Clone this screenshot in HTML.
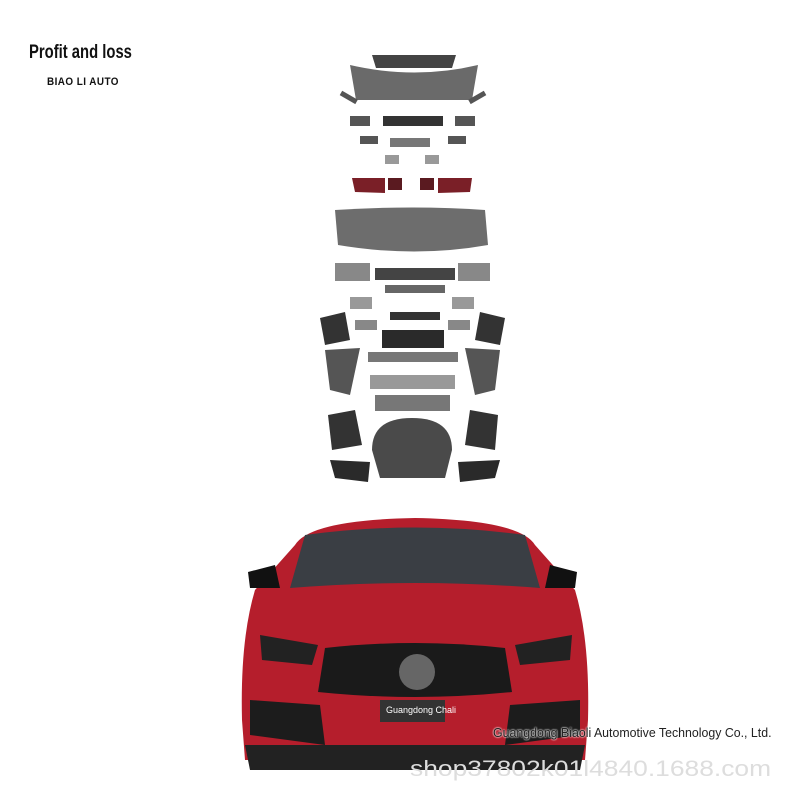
<!DOCTYPE html>
<html><head><meta charset="utf-8"><style>
body{margin:0;width:800px;height:800px;background:#fff;position:relative;overflow:hidden;font-family:"Liberation Sans",sans-serif}
.t{position:absolute;white-space:nowrap}
</style></head><body>
<div class="t" style="left:29px;top:42px;font-size:19px;color:#111;font-weight:bold;transform:scaleX(0.78);transform-origin:left">Profit and loss</div>
<div class="t" style="left:47px;top:76px;font-size:11px;font-weight:bold;color:#111;letter-spacing:0.5px;transform:scaleX(0.9);transform-origin:left">BIAO LI AUTO</div>
<svg width="800" height="800" style="position:absolute;left:0;top:0">
<g fill="#555">
<path d="M372 55 L456 55 L452 68 L376 68Z" fill="#444"/>
<path d="M350 65 Q415 80 478 65 L472 100 L356 100Z" fill="#6a6a6a"/>
<rect x="340" y="95" width="18" height="5" transform="rotate(30 349 97)"/>
<rect x="468" y="95" width="18" height="5" transform="rotate(-30 477 97)"/>
<rect x="350" y="116" width="20" height="10"/><rect x="383" y="116" width="60" height="10" fill="#333"/><rect x="455" y="116" width="20" height="10"/>
<rect x="360" y="136" width="18" height="8"/><rect x="390" y="138" width="40" height="9" fill="#777"/><rect x="448" y="136" width="18" height="8"/>
<rect x="385" y="155" width="14" height="9" fill="#999"/><rect x="425" y="155" width="14" height="9" fill="#999"/>
<path d="M352 178 L385 178 L385 193 L355 192Z" fill="#7a1f27"/><rect x="388" y="178" width="14" height="12" fill="#5a1a20"/>
<rect x="420" y="178" width="14" height="12" fill="#5a1a20"/><path d="M438 178 L472 178 L470 192 L438 193Z" fill="#7a1f27"/>
<path d="M335 210 Q415 205 485 210 L488 245 Q415 258 338 245Z" fill="#6d6d6d"/>
<rect x="335" y="263" width="35" height="18" fill="#888"/><rect x="375" y="268" width="80" height="12" fill="#444"/><rect x="458" y="263" width="32" height="18" fill="#888"/>
<rect x="385" y="285" width="60" height="8" fill="#666"/>
<rect x="350" y="297" width="22" height="12" fill="#999"/><rect x="452" y="297" width="22" height="12" fill="#999"/>
<rect x="390" y="312" width="50" height="8" fill="#333"/>
<path d="M320 318 L345 312 L350 340 L325 345Z" fill="#333"/><path d="M480 312 L505 318 L500 345 L475 340Z" fill="#333"/>
<rect x="355" y="320" width="22" height="10" fill="#888"/><rect x="448" y="320" width="22" height="10" fill="#888"/>
<rect x="382" y="330" width="62" height="18" fill="#2a2a2a"/>
<path d="M325 350 L360 348 L350 395 L330 390Z" fill="#555"/><path d="M465 348 L500 350 L495 390 L475 395Z" fill="#555"/>
<rect x="368" y="352" width="90" height="10" fill="#777"/>
<rect x="370" y="375" width="85" height="14" fill="#999"/>
<rect x="375" y="395" width="75" height="16" fill="#777"/>
<path d="M328 415 L355 410 L362 445 L332 450Z" fill="#333"/><path d="M470 410 L498 415 L495 450 L465 445Z" fill="#333"/>
<path d="M372 450 Q372 418 412 418 Q452 418 452 450 L445 478 L380 478Z" fill="#4a4a4a"/>
<path d="M330 460 L370 462 L368 482 L335 478Z" fill="#2a2a2a"/><path d="M458 462 L500 460 L495 478 L460 482Z" fill="#2a2a2a"/>
</g>
<path d="M295 545 Q310 520 415 518 Q520 520 535 545 L575 590 Q590 640 588 720 L585 760 L245 760 L242 720 Q240 640 255 590Z" fill="#b51e2c"/>
<path d="M305 535 Q415 520 525 535 L540 588 Q415 578 290 588Z" fill="#3a3e44"/>
<path d="M248 572 L275 565 L280 588 L250 588Z" fill="#111"/><path d="M550 565 L577 572 L575 588 L545 588Z" fill="#111"/>
<path d="M260 635 L318 645 L312 665 L262 660Z" fill="#222"/><path d="M515 645 L572 635 L570 660 L520 665Z" fill="#222"/>
<path d="M325 648 Q415 638 505 648 L512 692 Q415 702 318 692Z" fill="#1a1a1a"/>
<circle cx="417" cy="672" r="18" fill="#666"/>
<path d="M250 700 L320 705 L325 745 L250 735Z" fill="#1c1c1c"/><path d="M510 705 L580 700 L580 735 L505 745Z" fill="#1c1c1c"/>
<path d="M245 745 L585 745 L580 770 L250 770Z" fill="#222"/>
<rect x="380" y="700" width="65" height="22" fill="#333"/>
</svg>
<div class="t" style="left:386px;top:705px;font-size:9px;color:#fff">Guangdong Chali</div>
<div class="t" style="left:493px;top:725px;font-size:13px;color:#222;transform:scaleX(0.95);transform-origin:left;text-shadow:0 0 2px #fff,0 0 2px #fff">Guangdong Biaoli Automotive Technology Co., Ltd.</div>
<div class="t" style="left:410px;top:756px;font-size:22px;color:#ddd;transform:scaleX(1.2);transform-origin:left">shop37802k01l4840.1688.com</div>
</body></html>
